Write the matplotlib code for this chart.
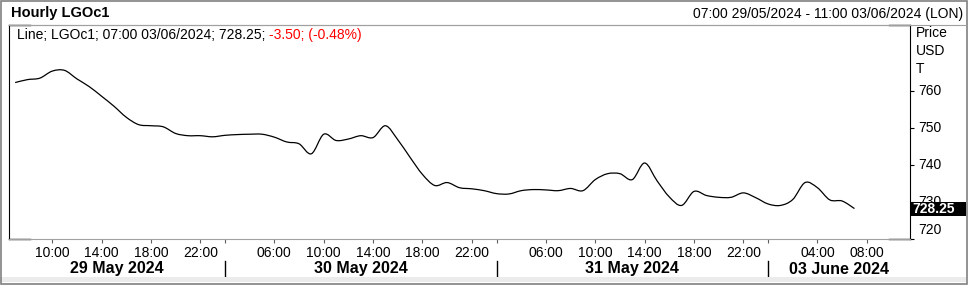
import numpy as np
import matplotlib.pyplot as plt
import matplotlib.transforms as mtransforms
from matplotlib.patches import Rectangle, PathPatch
from matplotlib.path import Path
from matplotlib.lines import Line2D

plt.rcParams['font.family'] = ['Liberation Sans', 'DejaVu Sans']

W, H = 969, 285

# trading days and the hourly bars on the axis (bar end time)
days = ['29 May 2024', '30 May 2024', '31 May 2024', '03 June 2024']
day_hours = [list(range(7, 24)), list(range(2, 24)), list(range(2, 24)), list(range(0, 12))]
tick_hours = [[10, 14, 18, 22], [6, 10, 14, 18, 22], [6, 10, 14, 18, 22], [4, 8]]

# hourly LGOc1 closes, 07:00 29/05 to 07:00 03/06
prices_29 = [762.4, 763.2, 763.6, 765.5, 765.7, 763.4, 761.3, 758.7, 756.0, 753.0,
             751.0, 750.7, 750.4, 748.6, 748.0, 748.0, 747.7]
prices_30 = [748.1, 748.3, 748.4, 748.4, 747.6, 746.3, 745.8, 743.1, 748.4, 746.7,
             747.1, 748.0, 747.5, 750.7, 746.9, 742.1, 737.5, 734.5, 735.3, 733.9,
             733.6, 733.1]
prices_31 = [732.3, 732.2, 733.1, 733.4, 733.3, 733.1, 733.7, 733.1, 736.1, 737.7,
             737.7, 736.1, 740.6, 735.8, 731.4, 729.1, 732.9, 731.8, 731.3, 731.3,
             732.5, 731.2]
prices_03 = [729.5, 729.1, 730.7, 735.3, 733.9, 730.6, 730.3, 728.25]

y_ticks = [720, 730, 740, 750, 760]
last_price = 728.25
change_txt = '-3.50; (-0.48%)'

# build the bar index (weekends / night gaps are skipped)
bar_pos = {}
day_start = []
i = 0
for d, hrs in enumerate(day_hours):
    day_start.append(i)
    for h in hrs:
        bar_pos[(d, h)] = i
        i += 1
n_bars = i

prices = prices_29 + prices_30 + prices_31 + prices_03
x = np.arange(len(prices))


def fx(px):
    return px / W


def fy(py):
    return 1 - py / H


fig = plt.figure(figsize=(W / 100, H / 100), dpi=100)
ax = fig.add_axes([fx(9), fy(239), (910 - 9) / W, (239 - 25) / H])

# smoothed line (catmull-rom style bezier through the hourly points)
pts = np.column_stack([x, prices])
verts = [pts[0]]
codes = [Path.MOVETO]
for k in range(len(pts) - 1):
    p0 = pts[max(k - 1, 0)]
    p1 = pts[k]
    p2 = pts[k + 1]
    p3 = pts[min(k + 2, len(pts) - 1)]
    verts += [p1 + (p2 - p0) / 6, p2 - (p3 - p1) / 6, p2]
    codes += [Path.CURVE4] * 3
ax.add_patch(PathPatch(Path(verts, codes), facecolor='none', edgecolor='black', lw=0.9))
ax.set_xlim(-0.5, n_bars - 0.5)
ax.set_ylim(720, 778)

# spines
for s in ['top', 'bottom']:
    ax.spines[s].set_color('#a0a0a0')
    ax.spines[s].set_linewidth(0.8)
for s in ['left', 'right']:
    ax.spines[s].set_color('black')
    ax.spines[s].set_linewidth(0.8)
stub = 21 / 901
for xs in [(0, stub), (1 - stub, 1)]:
    for ys in [0, 1]:
        ax.plot(xs, [ys, ys], color='black', lw=1, transform=ax.transAxes, clip_on=False)

# x ticks
xt, xl = [], []
for d, hrs in enumerate(tick_hours):
    for h in hrs:
        xt.append(bar_pos[(d, h)])
        xl.append('%02d:00' % h)
ax.set_xticks(xt, xl)
ax.set_xticks(day_start[1:], minor=True)
ax.tick_params(axis='x', which='both', length=3, width=0.8, color='#606060',
               pad=2, labelsize=10, labelcolor='black')

# y ticks on the right, labels as text
ax.set_yticks(y_ticks)
ax.yaxis.tick_right()
ax.tick_params(axis='y', length=3, width=0.8, color='black', labelright=False)
ty = mtransforms.blended_transform_factory(ax.transAxes, ax.transData)
for v in y_ticks:
    va = 'bottom' if v == y_ticks[0] else 'center'
    ax.text(1 + 8 / 901, v + (0.5 if va == 'bottom' else 0), str(v), transform=ty,
            ha='left', va=va, fontsize=10, clip_on=False)
for k, lab in enumerate(['Price', 'USD', 'T']):
    fig.text(fx(916), fy(33 + 18 * k), lab, ha='left', va='center', fontsize=10)

# last value tag
ax.add_patch(Rectangle((1.0, last_price - 1.9), 56 / 901, 3.8, transform=ty,
                       facecolor='black', edgecolor='none', clip_on=False, zorder=5))
ax.text(1 + 2 / 901, last_price, '%.2f' % last_price, transform=ty, ha='left', va='center',
        color='white', fontsize=10, fontweight='bold', clip_on=False, zorder=6)

# day labels and separators
tb = mtransforms.blended_transform_factory(ax.transData, ax.transAxes)
edges = [-0.5] + day_start[1:] + [n_bars - 0.5]
for d, name in enumerate(days):
    c = (edges[d] + edges[d + 1]) / 2
    ax.text(c, -30 / 214, name, transform=tb, ha='center', va='center',
            fontsize=11.5, fontweight='bold', clip_on=False)
for s in day_start[1:]:
    ax.plot([s, s], [-22 / 214, -38 / 214], color='black', lw=1, transform=tb, clip_on=False)

# header
fig.text(fx(11), fy(13), 'Hourly LGOc1', ha='left', va='center', fontsize=10.5, fontweight='bold')
fig.text(fx(963), fy(14), '07:00 29/05/2024 - 11:00 03/06/2024 (LON)', ha='right',
         va='center', fontsize=10)
fig.add_artist(Line2D([fx(9), fx(966)], [fy(25), fy(25)], color='#a0a0a0', lw=0.8))

# legend line
t1 = fig.text(fx(17), fy(35), 'Line; LGOc1; 07:00 03/06/2024; %.2f; ' % last_price,
              ha='left', va='center', fontsize=10)
ax.annotate(change_txt, xy=(1, 0.5), xycoords=t1, ha='left', va='center',
            fontsize=10, color='#ff0000')

# outer frame
fig.add_artist(Rectangle((fx(0), fy(282)), fx(966), fy(277) - fy(282),
                         transform=fig.transFigure, facecolor='#ebebeb', edgecolor='none'))
fig.add_artist(Rectangle((fx(1), fy(284)), fx(966), fy(1) - fy(284), transform=fig.transFigure,
                         fill=False, edgecolor='#808080', lw=1.2))

fig.savefig('out.png', dpi=100)
